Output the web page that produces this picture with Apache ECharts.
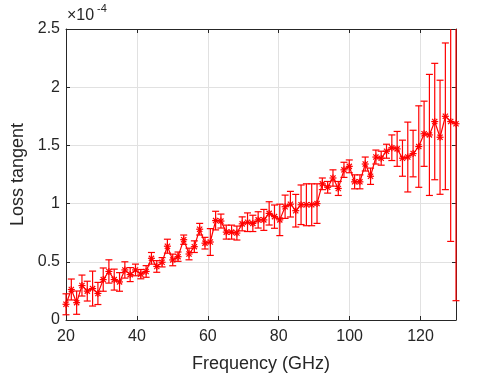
<!DOCTYPE html>
<html>
<head>
<meta charset="utf-8">
<script src="https://cdn.jsdelivr.net/npm/echarts@6/dist/echarts.min.js"></script>
<style>
html,body{margin:0;padding:0;background:#fff;}
#chart{width:504px;height:378px;}
</style>
</head>
<body>
<div id="chart"></div>
<script>
// Frequency (GHz)
const freq = [20.0, 21.5, 23.0, 24.5, 26.0, 27.5, 29.0, 30.5, 32.1, 33.6, 35.1, 36.6, 38.1, 39.6, 41.1, 42.6,
  44.1, 45.6, 47.1, 48.6, 50.1, 51.6, 53.2, 54.7, 56.2, 57.7, 59.2, 60.7, 62.2, 63.7, 65.2, 66.7,
  68.2, 69.7, 71.2, 72.7, 74.2, 75.8, 77.3, 78.8, 80.3, 81.8, 83.3, 84.8, 86.3, 87.8, 89.3, 90.8,
  92.3, 93.8, 95.3, 96.8, 98.4, 99.9, 101.4, 102.9, 104.4, 105.9, 107.4, 108.9, 110.4, 111.9, 113.4, 114.9,
  116.4, 117.9, 119.5, 121.0, 122.5, 124.0, 125.5, 127.0, 128.5, 130.0];
// Loss tangent (x 1e-4)
const lossTangent = [0.135, 0.262, 0.149, 0.296, 0.248, 0.27, 0.228, 0.347, 0.417, 0.347, 0.327, 0.43, 0.39,
  0.43, 0.394, 0.417, 0.53, 0.46, 0.496, 0.634, 0.516, 0.544,
  0.69, 0.567, 0.63, 0.78, 0.66, 0.67, 0.854, 0.85, 0.755, 0.755, 0.747, 0.826, 0.84, 0.83, 0.86, 0.86,
  0.916, 0.888, 0.86, 0.973, 0.995, 0.939, 0.99, 0.99, 0.99, 1.0,
  1.17, 1.14, 1.22, 1.13, 1.29, 1.32, 1.187, 1.187, 1.34, 1.235, 1.40, 1.39, 1.45, 1.48, 1.47, 1.39,
  1.40, 1.43, 1.49, 1.60, 1.59, 1.705, 1.57, 1.75, 1.705, 1.686];
// Error (half-length of error bar, x 1e-4)
const errorHalf = [0.09, 0.09, 0.10, 0.09, 0.085, 0.15, 0.095, 0.10, 0.10, 0.09, 0.08, 0.07, 0.06,
  0.05, 0.04, 0.05, 0.05, 0.05, 0.04, 0.06, 0.05, 0.04,
  0.04, 0.05, 0.05, 0.05, 0.05, 0.115, 0.08, 0.06, 0.06, 0.06, 0.06, 0.06, 0.08, 0.07, 0.07, 0.09,
  0.10, 0.10, 0.135, 0.10, 0.11, 0.14, 0.17, 0.18, 0.18, 0.17,
  0.05, 0.05, 0.07, 0.06, 0.065, 0.055, 0.06, 0.06, 0.06, 0.07, 0.06, 0.06, 0.06, 0.11, 0.15, 0.155,
  0.30, 0.20, 0.35, 0.28, 0.52, 0.50, 0.49, 0.63, 1.03, 1.52];
const xTicks = { min: 20, max: 130, interval: 20 };
const yTicks = { min: 0, max: 2.5, interval: 0.5 };

const FONT = '"Liberation Sans", Arial, Helvetica, sans-serif';
const TXT = '#262626';
const RED = '#ff0000';
const LW = 1.2;

const lineData = freq.map((f, i) => [f, lossTangent[i]]);
const ebData = freq.map((f, i) => [f, lossTangent[i], errorHalf[i]]);

const chart = echarts.init(document.getElementById('chart'), null, { renderer: 'canvas' });

function axisCommon(extra) {
  return Object.assign({
    type: 'value',
    axisLine: { show: true, onZero: false, lineStyle: { color: TXT, width: 1 } },
    axisTick: { show: true, inside: true, length: 4, lineStyle: { color: TXT } },
    axisLabel: { show: true, color: TXT, fontSize: 16, fontFamily: FONT },
    splitLine: { show: false },
    nameTextStyle: { color: TXT, fontSize: 18, fontFamily: FONT }
  }, extra);
}

const option = {
  animation: false,
  backgroundColor: '#fff',
  grid: { left: 66, right: 48, top: 29, bottom: 54, containLabel: false },
  xAxis: [
    axisCommon({
      min: xTicks.min, max: xTicks.max, interval: xTicks.interval, position: 'bottom',
      name: 'Frequency (GHz)', nameLocation: 'middle', nameGap: 35,
      axisLabel: { show: true, color: TXT, fontSize: 16, fontFamily: FONT, margin: 9, showMaxLabel: false },
      splitLine: { show: true, lineStyle: { color: '#e1e1e1', width: 1 } }
    }),
    axisCommon({
      min: xTicks.min, max: xTicks.max, interval: xTicks.interval, position: 'top',
      axisLabel: { show: false }
    })
  ],
  yAxis: [
    axisCommon({
      min: yTicks.min, max: yTicks.max, interval: yTicks.interval, position: 'left',
      name: 'Loss tangent', nameLocation: 'middle', nameGap: 34,
      axisLabel: { show: true, color: TXT, fontSize: 16, fontFamily: FONT, margin: 6 },
      splitLine: { show: true, lineStyle: { color: '#e1e1e1', width: 1 } }
    }),
    axisCommon({
      min: yTicks.min, max: yTicks.max, interval: yTicks.interval, position: 'right',
      axisLabel: { show: false }
    })
  ],
  graphic: [
    { type: 'text', left: 67, top: 8, style: { text: '×10', fill: TXT, font: '16px ' + FONT } },
    { type: 'text', left: 97, top: 3, style: { text: '-4', fill: TXT, font: '11px ' + FONT } }
  ],
  series: [
    {
      type: 'line', data: lineData, xAxisIndex: 0, yAxisIndex: 0,
      symbol: 'none', lineStyle: { color: RED, width: LW }, z: 2, silent: true
    },
    {
      type: 'custom', data: ebData, xAxisIndex: 0, yAxisIndex: 0, z: 3, silent: true,
      encode: { x: 0, y: 1 },
      renderItem: function (params, api) {
        const x = api.value(0), y = api.value(1), e = api.value(2);
        const p = api.coord([x, y]);
        const hiVal = y + e, loVal = y - e;
        const hiClip = hiVal > yTicks.max;
        const top = api.coord([x, Math.min(hiVal, yTicks.max)]);
        const bot = api.coord([x, Math.max(loVal, yTicks.min)]);
        const st = { stroke: RED, lineWidth: LW };
        const cw = 3.5, m = 3.5, d = 2.6;
        const ch = [
          { type: 'line', shape: { x1: p[0], y1: top[1], x2: p[0], y2: bot[1] }, style: st },
          { type: 'line', shape: { x1: p[0] - cw, y1: bot[1], x2: p[0] + cw, y2: bot[1] }, style: st },
          { type: 'line', shape: { x1: p[0] - m, y1: p[1], x2: p[0] + m, y2: p[1] }, style: st },
          { type: 'line', shape: { x1: p[0], y1: p[1] - m, x2: p[0], y2: p[1] + m }, style: st },
          { type: 'line', shape: { x1: p[0] - d, y1: p[1] - d, x2: p[0] + d, y2: p[1] + d }, style: st },
          { type: 'line', shape: { x1: p[0] - d, y1: p[1] + d, x2: p[0] + d, y2: p[1] - d }, style: st }
        ];
        if (!hiClip) {
          ch.push({ type: 'line', shape: { x1: p[0] - cw, y1: top[1], x2: p[0] + cw, y2: top[1] }, style: st });
        }
        return { type: 'group', children: ch };
      }
    }
  ]
};
chart.setOption(option);
</script>
</body>
</html>
